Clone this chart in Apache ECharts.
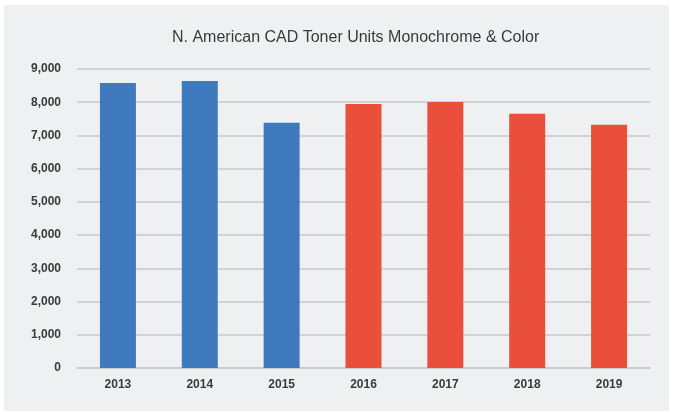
<!DOCTYPE html>
<html>
<head>
<meta charset="utf-8">
<script src="https://cdn.jsdelivr.net/npm/echarts@6/dist/echarts.min.js"></script>
<style>
  html, body { margin: 0; padding: 0; background: #ffffff; }
  #toner_chart {
    position: absolute;
    left: 4px;
    top: 5px;
    width: 665px;
    height: 406px;
    background: #eff0f2;
  }
</style>
</head>
<body>
<div id="toner_chart"></div>
<script>
// chart data
var years = ["2013", "2014", "2015", "2016", "2017", "2018", "2019"];
var units = [8580, 8640, 7380, 7950, 8010, 7650, 7320];
// first three years monochrome blue, rest red
var barColors = ["#3f7abf", "#3f7abf", "#3f7abf", "#e94f3b", "#e94f3b", "#e94f3b", "#e94f3b"];
var yTicks = [0, 1000, 2000, 3000, 4000, 5000, 6000, 7000, 8000, 9000];

var tonerChart = echarts.init(document.getElementById("toner_chart"));
var labelFont = "'Liberation Sans', Arial, sans-serif";

var option = {
  backgroundColor: "transparent",
  animation: false,
  title: {
    text: "N. American CAD Toner Units Monochrome & Color",
    left: 163,
    top: 20,
    textStyle: {
      color: "#3a3a3a",
      fontSize: 16,
      fontWeight: "normal",
      fontFamily: labelFont
    }
  },
  grid: {
    left: 73,
    right: 19,
    top: 64,
    bottom: 43
  },
  xAxis: {
    type: "category",
    data: years,
    axisTick: { show: false },
    axisLine: { lineStyle: { color: "#c8c9cb", width: 1.5 } },
    axisLabel: {
      margin: 11,
      color: "#3a3a3a",
      fontSize: 12,
      fontWeight: "bold",
      fontFamily: labelFont
    }
  },
  yAxis: {
    type: "value",
    min: yTicks[0],
    max: yTicks[yTicks.length - 1],
    interval: 1000,
    axisLine: { show: false },
    axisTick: { show: false },
    splitLine: { lineStyle: { color: "#c8c9cb", width: 1.5 } },
    axisLabel: {
      margin: 16,
      color: "#3a3a3a",
      fontSize: 12,
      fontWeight: "bold",
      fontFamily: labelFont,
      formatter: function (v) {
        return v.toLocaleString("en-US");
      }
    }
  },
  series: [
    {
      name: "Toner Units",
      type: "bar",
      barWidth: 36,
      data: units.map(function (v, i) {
        return { value: v, itemStyle: { color: barColors[i] } };
      })
    }
  ]
};
tonerChart.setOption(option);
window.addEventListener("resize", function () {
  tonerChart.resize();
});
</script>
</body>
</html>
